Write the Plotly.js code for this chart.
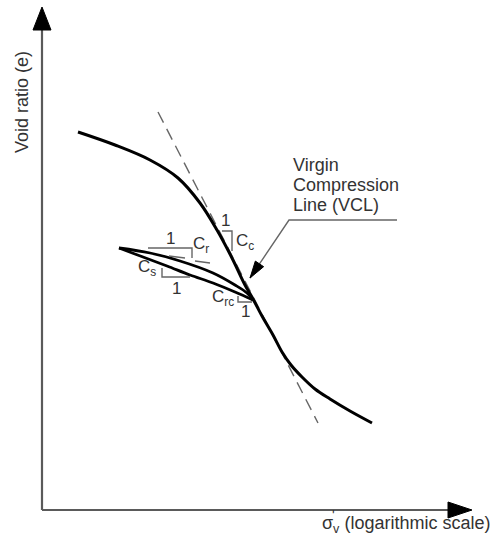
<!DOCTYPE html>
<html>
<head>
<meta charset="utf-8">
<script src="https://cdn.plot.ly/plotly-3.0.1.min.js"></script>
<style>html,body{margin:0;padding:0;background:#fff;}#chart{width:497px;height:537px;}</style>
</head>
<body>
<div id="chart"></div>
<script>
// Schematic e - log(sigma'v) diagram, values read in the picture's own coordinate frame
const vclX = [78, 115, 150, 178, 200, 217, 232, 245, 253, 262, 273, 282, 291, 302, 315, 330, 350, 372];
const vclY = [132, 145, 160, 178, 203, 230, 258, 285, 299, 316, 335, 352, 365, 377, 389, 399, 411, 423];
const tangentX = [158, 318];
const tangentY = [112, 423];
const reloadX = [119, 150, 180, 213, 235, 247, 253];
const reloadY = [248, 253, 261, 273, 285, 293, 300];
const unloadX = [119, 143, 167, 190, 213, 235, 253];
const unloadY = [248, 257, 266, 275, 283, 292, 300];
const ccTriX = [222, 232, 232];
const ccTriY = [231, 231, 251];
const crTriX = [148, 192, 192];
const crTriY = [248, 248, 258];
const crTanAX = [169, 185];
const crTanAY = [256, 258];
const crTanBX = [195, 210];
const crTanBY = [261, 263];
const csTriX = [162, 162, 190];
const csTriY = [268, 277, 277];
const crcTriX = [238, 238, 252];
const crcTriY = [296, 302, 302];
const yAxisX = [42, 42];
const yAxisY = [510, 7];
const xAxisX = [42, 472];
const xAxisY = [510, 510];
const leaderX = [397, 289, 250];
const leaderY = [220, 220, 278];

const labels = [
  {t: '1', x: 225, y: 220},
  {t: 'C<sub>c</sub>', x: 245, y: 242},
  {t: '1', x: 170, y: 238},
  {t: 'C<sub>r</sub>', x: 201, y: 245},
  {t: 'C<sub>s</sub>', x: 147, y: 268},
  {t: '1', x: 176, y: 288},
  {t: 'C<sub>rc</sub>', x: 223, y: 298},
  {t: '1', x: 245, y: 311}
];
const vclText = ['Virgin', 'Compression', 'Line (VCL)'];
const vclTextX = 291;
const vclTextY = [165, 185, 205];

function arrowHead(x0, y0, x1, y1, len, half) {
  const dx = x1 - x0, dy = y1 - y0, L = Math.hypot(dx, dy);
  const ux = dx / L, uy = dy / L, nx = -uy, ny = ux;
  const bx = x1 - len * ux, by = y1 - len * uy;
  return {x: [x1, bx + half * nx, bx - half * nx, x1], y: [y1, by + half * ny, by - half * ny, y1]};
}

const gray = '#5a5a5a';
const traces = [];
function line(x, y, opts) {
  traces.push(Object.assign({type: 'scatter', mode: 'lines', x: x, y: y, hoverinfo: 'skip', showlegend: false,
    line: {color: 'black', width: 2}}, opts || {}));
}
// axes
line(yAxisX, [yAxisY[0], yAxisY[1] + 22], {line: {color: gray, width: 2.2}});
line(xAxisX.slice(0, 1).concat([xAxisX[1] - 22]), xAxisY, {line: {color: gray, width: 2.2}});
const ya = arrowHead(yAxisX[0], yAxisY[0], yAxisX[1], yAxisY[1], 23, 9);
line(ya.x, ya.y, {fill: 'toself', fillcolor: 'black', line: {color: 'black', width: 1}});
const xa = arrowHead(xAxisX[0], xAxisY[0], xAxisX[1], xAxisY[1], 24, 8);
line(xa.x, xa.y, {fill: 'toself', fillcolor: 'black', line: {color: 'black', width: 1}});
// dashed tangent
line(tangentX, tangentY, {line: {color: '#666', width: 1.4, dash: '12px,7px'}});
// curves
line(vclX, vclY, {line: {color: 'black', width: 3, shape: 'spline', smoothing: 1}});
line(reloadX, reloadY, {line: {color: 'black', width: 2.8, shape: 'spline', smoothing: 1}});
line(unloadX, unloadY, {line: {color: 'black', width: 2.8, shape: 'spline', smoothing: 1}});
// slope triangles
[[ccTriX, ccTriY], [crTriX, crTriY], [crTanAX, crTanAY], [crTanBX, crTanBY], [csTriX, csTriY], [crcTriX, crcTriY]].forEach(function (p) {
  line(p[0], p[1], {line: {color: '#666', width: 1.4}});
});
// leader
line(leaderX, leaderY, {line: {color: '#666', width: 1.4}});
const la = arrowHead(leaderX[1], leaderY[1], leaderX[2], leaderY[2], 17, 5);
line(la.x, la.y, {fill: 'toself', fillcolor: 'black', line: {color: 'black', width: 1}});

const font = {family: 'Liberation Sans, Arial, sans-serif', size: 17, color: '#333'};
const annotations = labels.map(function (l) {
  return {text: l.t, x: l.x, y: l.y, xref: 'x', yref: 'y', showarrow: false, font: font, xanchor: 'center', yanchor: 'middle'};
});
vclText.forEach(function (t, i) {
  annotations.push({text: t, x: vclTextX, y: vclTextY[i], xref: 'x', yref: 'y', showarrow: false,
    font: {family: font.family, size: 18, color: '#333'}, xanchor: 'left', yanchor: 'middle'});
});
annotations.push({text: 'Void ratio (e)', x: 22, y: 102, xref: 'x', yref: 'y', showarrow: false, textangle: -90,
  font: {family: font.family, size: 18, color: '#333'}, xanchor: 'center', yanchor: 'middle'});
annotations.push({text: 'σ<sub>v</sub> (logarithmic scale)', x: 320, y: 524, xref: 'x', yref: 'y', showarrow: false,
  font: {family: font.family, size: 18, color: '#333'}, xanchor: 'left', yanchor: 'middle'});
annotations.push({text: '\'', x: 330, y: 515, xref: 'x', yref: 'y', showarrow: false,
  font: {family: font.family, size: 14, color: '#333'}, xanchor: 'left', yanchor: 'middle'});

const layout = {
  width: 497, height: 537,
  margin: {l: 0, r: 0, t: 0, b: 0, pad: 0},
  paper_bgcolor: 'white', plot_bgcolor: 'white',
  showlegend: false,
  xaxis: {range: [0, 497], visible: false, fixedrange: true},
  yaxis: {range: [537, 0], visible: false, fixedrange: true},
  annotations: annotations
};
Plotly.newPlot('chart', traces, layout, {staticPlot: true, displayModeBar: false});
</script>
</body>
</html>
